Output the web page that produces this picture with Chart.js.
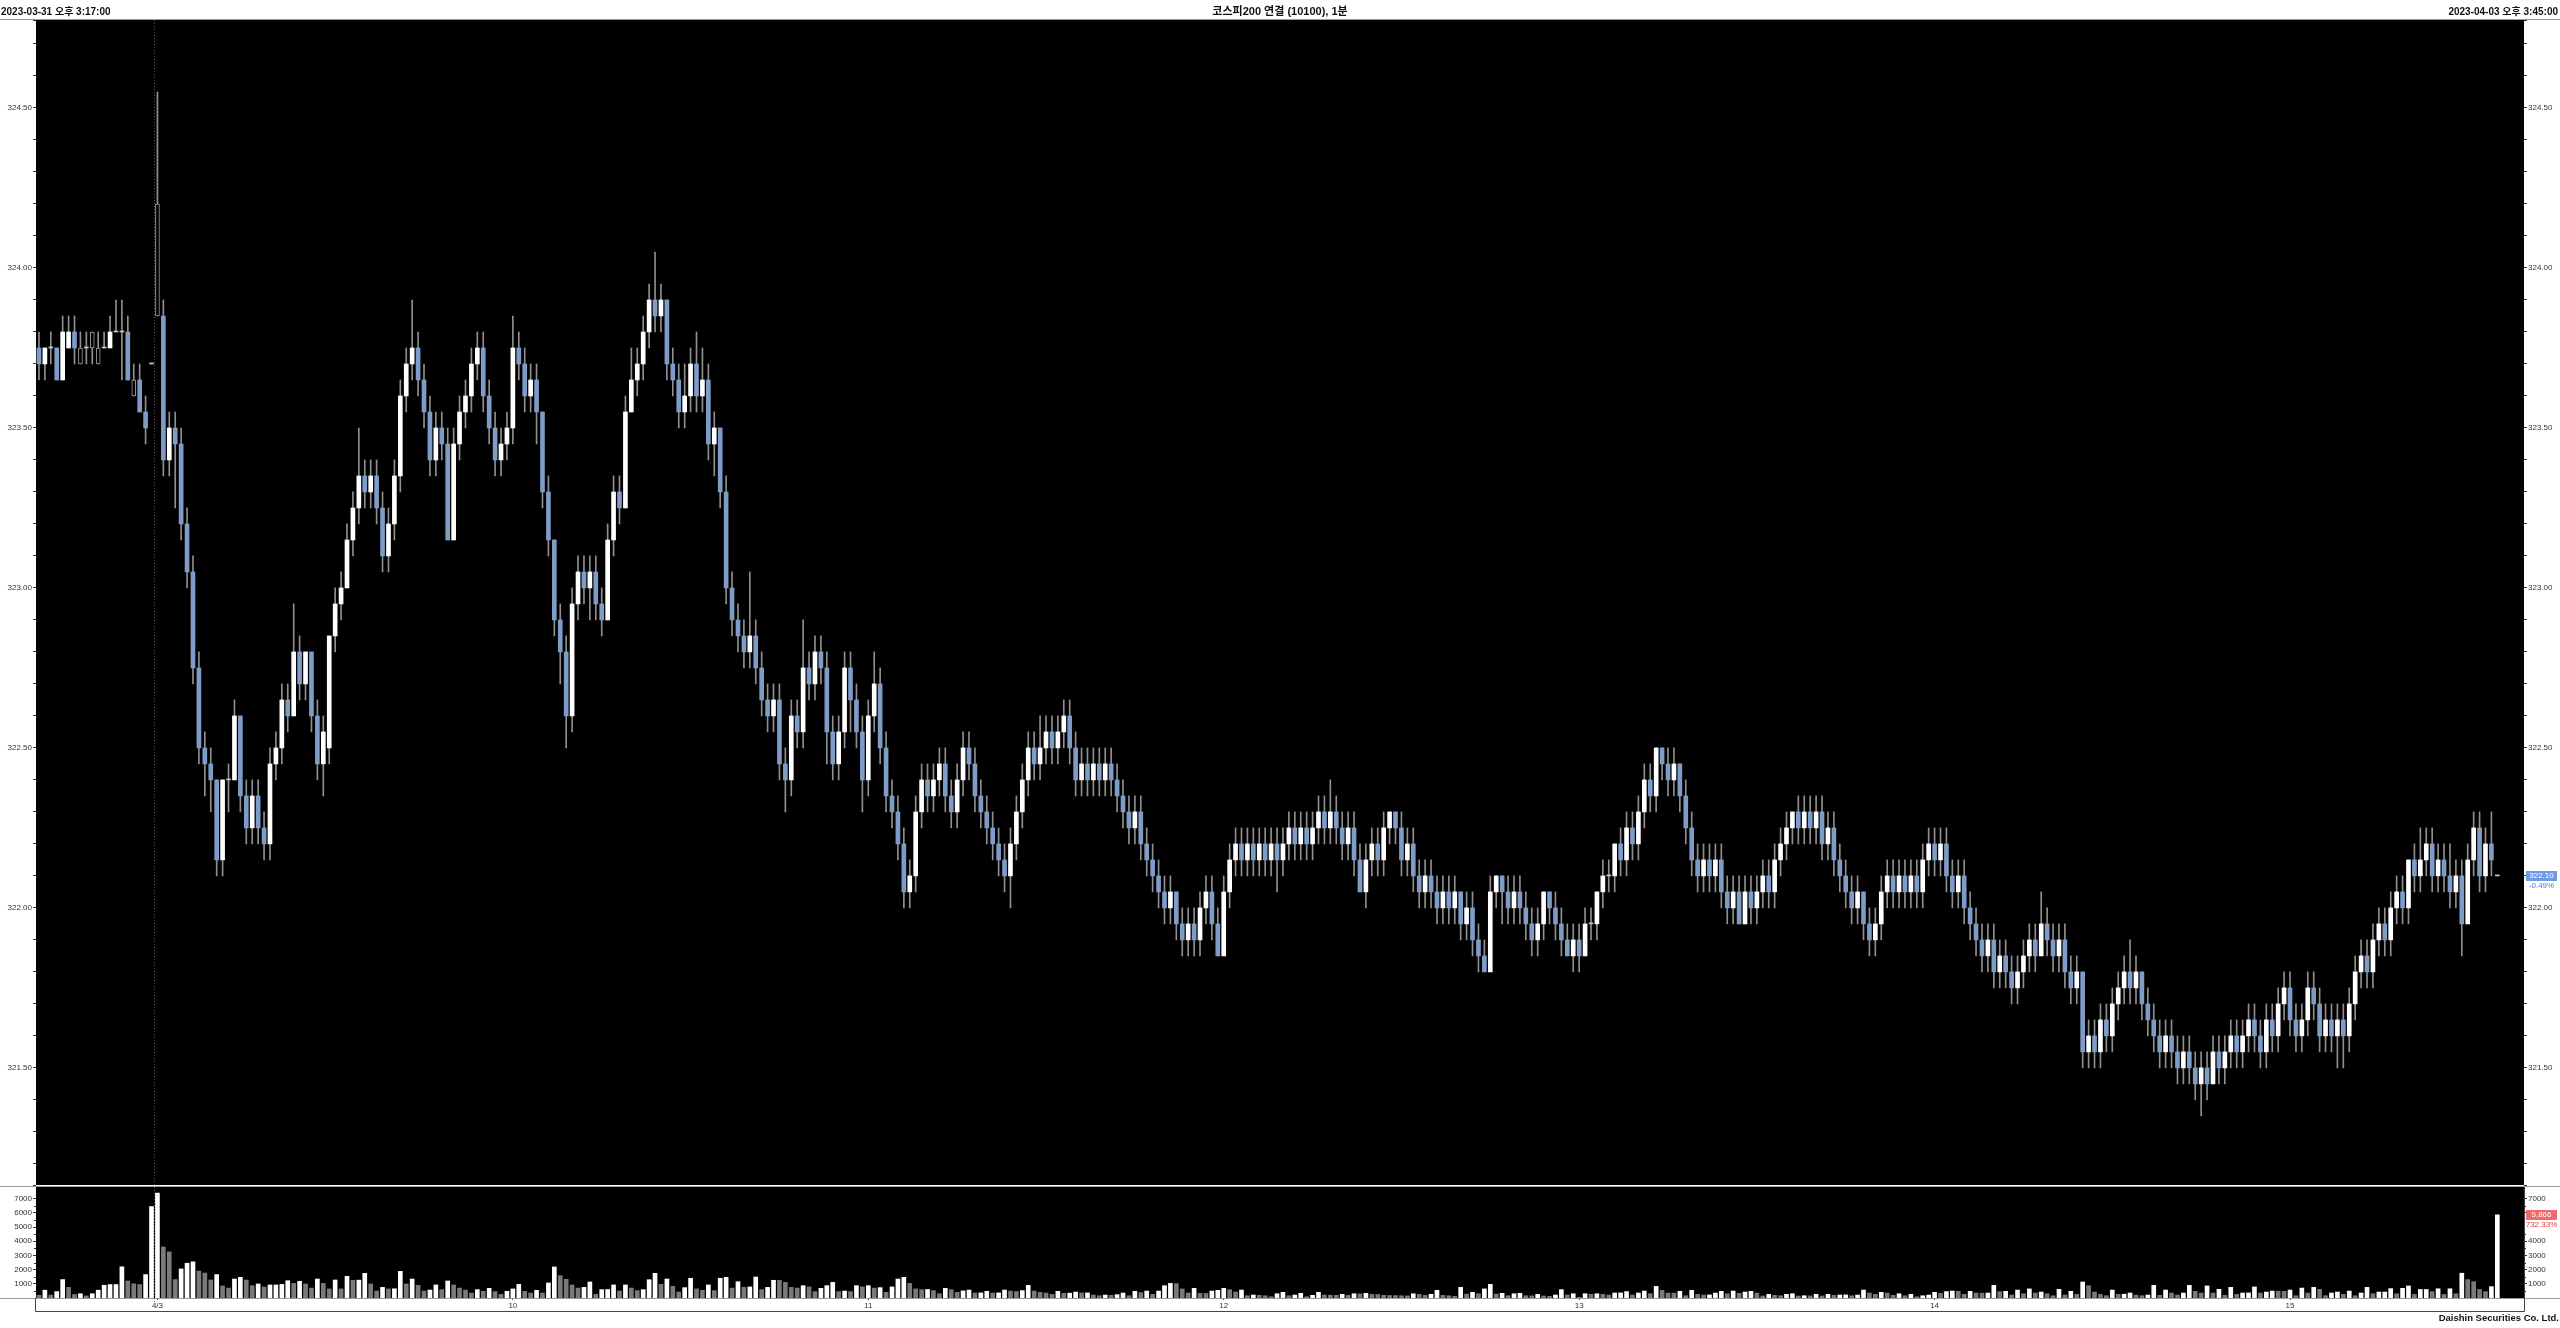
<!DOCTYPE html>
<html>
<head>
<meta charset="utf-8">
<script src="https://cdn.jsdelivr.net/npm/chart.js@4.4.1/dist/chart.umd.min.js"></script>
<style>
  html, body { margin: 0; padding: 0; background: #fff; }
  #page { position: relative; width: 2560px; height: 1328px; overflow: hidden; background: #fff; }
  canvas { position: absolute; left: 0; }
  .txt { position: absolute; font: bold 10px 'Liberation Sans', 'Noto Sans CJK KR', sans-serif; color: #111; white-space: nowrap; z-index: 2; }
</style>
</head>
<body>
<div id="page">
  <canvas id="priceChart" width="2560" height="1186" style="top:0"></canvas>
  <canvas id="volumeChart" width="2560" height="142" style="top:1186px"></canvas>
  <div class="txt" style="left:1px; top:3px">2023-03-31 오후 3:17:00</div>
  <div class="txt" style="left:0; width:2560px; top:2px; text-align:center; font-size:11px">코스피200 연결 (10100), 1분</div>
  <div class="txt" style="right:2px; top:3px">2023-04-03 오후 3:45:00</div>
  <div class="txt" style="right:1px; top:1312px; font-size:9.5px">Daishin Securities Co. Ltd.</div>
</div>
<script>
// 1-minute bars, 3/31 15:17 .. 4/3 closing call (416 bars)
const opens = [
  323.75, 323.70, 323.75, 323.75, 323.65, 323.75, 323.80, 323.75, 323.75, 323.80,
  323.75, 323.75, 323.75, 323.80, 323.80, 323.80, 323.65, 323.65, 323.55, 323.70,
  324.20, 323.85, 323.40, 323.50, 323.45, 323.20, 323.05, 322.75, 322.50, 322.45,
  322.40, 322.15, 322.40, 322.40, 322.60, 322.35, 322.25, 322.35, 322.25, 322.20,
  322.45, 322.50, 322.65, 322.60, 322.80, 322.70, 322.80, 322.60, 322.45, 322.50,
  322.85, 322.95, 323.00, 323.15, 323.25, 323.35, 323.30, 323.35, 323.25, 323.10,
  323.20, 323.35, 323.60, 323.70, 323.75, 323.65, 323.55, 323.40, 323.50, 323.45,
  323.15, 323.45, 323.55, 323.60, 323.70, 323.75, 323.60, 323.50, 323.40, 323.45,
  323.50, 323.75, 323.70, 323.60, 323.65, 323.55, 323.30, 323.15, 322.90, 322.80,
  322.60, 322.95, 323.05, 323.00, 323.05, 322.95, 322.90, 323.15, 323.30, 323.25,
  323.55, 323.65, 323.70, 323.80, 323.90, 323.85, 323.90, 323.70, 323.65, 323.55,
  323.60, 323.70, 323.60, 323.65, 323.45, 323.50, 323.30, 323.00, 322.90, 322.85,
  322.80, 322.85, 322.75, 322.65, 322.60, 322.65, 322.45, 322.40, 322.60, 322.55,
  322.75, 322.70, 322.80, 322.75, 322.55, 322.45, 322.55, 322.75, 322.65, 322.55,
  322.40, 322.60, 322.70, 322.50, 322.35, 322.30, 322.20, 322.05, 322.10, 322.30,
  322.40, 322.35, 322.40, 322.45, 322.35, 322.30, 322.40, 322.50, 322.45, 322.35,
  322.30, 322.25, 322.20, 322.15, 322.10, 322.20, 322.30, 322.40, 322.50, 322.45,
  322.50, 322.55, 322.50, 322.55, 322.60, 322.50, 322.40, 322.45, 322.40, 322.45,
  322.40, 322.45, 322.40, 322.35, 322.30, 322.25, 322.30, 322.20, 322.15, 322.10,
  322.05, 322.00, 322.05, 321.95, 321.90, 321.95, 321.90, 322.00, 322.05, 321.95,
  321.85, 322.05, 322.15, 322.20, 322.15, 322.20, 322.15, 322.20, 322.15, 322.20,
  322.15, 322.20, 322.25, 322.20, 322.25, 322.20, 322.25, 322.30, 322.25, 322.30,
  322.25, 322.20, 322.25, 322.15, 322.05, 322.15, 322.20, 322.15, 322.25, 322.30,
  322.25, 322.15, 322.20, 322.10, 322.05, 322.10, 322.05, 322.00, 322.05, 322.00,
  322.05, 321.95, 322.00, 321.90, 321.85, 321.80, 322.05, 322.10, 322.05, 322.00,
  322.05, 322.00, 321.95, 321.90, 321.95, 322.05, 322.00, 321.95, 321.90, 321.85,
  321.90, 321.85, 321.95, 321.95, 322.05, 322.10, 322.10, 322.20, 322.15, 322.25,
  322.20, 322.30, 322.40, 322.35, 322.50, 322.45, 322.40, 322.45, 322.35, 322.25,
  322.15, 322.10, 322.15, 322.10, 322.15, 322.05, 322.00, 322.05, 321.95, 322.05,
  322.00, 322.05, 322.10, 322.05, 322.15, 322.20, 322.25, 322.30, 322.25, 322.30,
  322.25, 322.30, 322.20, 322.25, 322.15, 322.10, 322.05, 322.00, 322.05, 321.95,
  321.90, 321.95, 322.05, 322.10, 322.05, 322.10, 322.05, 322.10, 322.05, 322.15,
  322.20, 322.15, 322.20, 322.10, 322.05, 322.10, 322.00, 321.95, 321.90, 321.85,
  321.90, 321.80, 321.85, 321.80, 321.75, 321.80, 321.85, 321.90, 321.85, 321.95,
  321.90, 321.85, 321.90, 321.80, 321.75, 321.80, 321.55, 321.60, 321.55, 321.65,
  321.60, 321.70, 321.75, 321.80, 321.75, 321.80, 321.70, 321.65, 321.60, 321.55,
  321.60, 321.55, 321.50, 321.55, 321.50, 321.45, 321.50, 321.45, 321.55, 321.50,
  321.55, 321.60, 321.55, 321.60, 321.65, 321.60, 321.55, 321.65, 321.60, 321.70,
  321.75, 321.65, 321.60, 321.65, 321.75, 321.70, 321.60, 321.65, 321.60, 321.65,
  321.60, 321.70, 321.80, 321.85, 321.80, 321.90, 321.95, 321.90, 322.00, 322.05,
  322.00, 322.15, 322.10, 322.15, 322.20, 322.10, 322.15, 322.10, 322.05, 322.10,
  321.95, 322.15, 322.25, 322.10, 322.20, 322.10
]
const highs = [
  323.80, 323.75, 323.80, 323.75, 323.85, 323.85, 323.85, 323.80, 323.80, 323.80,
  323.80, 323.80, 323.85, 323.90, 323.90, 323.85, 323.70, 323.70, 323.60, 323.70,
  324.55, 323.90, 323.55, 323.55, 323.50, 323.25, 323.10, 322.80, 322.55, 322.50,
  322.40, 322.40, 322.45, 322.65, 322.60, 322.40, 322.40, 322.40, 322.30, 322.50,
  322.55, 322.70, 322.70, 322.95, 322.85, 322.80, 322.80, 322.65, 322.60, 322.85,
  323.00, 323.05, 323.20, 323.30, 323.50, 323.40, 323.40, 323.40, 323.30, 323.25,
  323.40, 323.65, 323.75, 323.90, 323.80, 323.70, 323.60, 323.55, 323.55, 323.50,
  323.50, 323.60, 323.65, 323.75, 323.80, 323.80, 323.65, 323.55, 323.50, 323.55,
  323.85, 323.80, 323.75, 323.70, 323.70, 323.55, 323.35, 323.15, 322.95, 322.85,
  323.00, 323.10, 323.10, 323.10, 323.10, 323.00, 323.20, 323.35, 323.35, 323.60,
  323.75, 323.75, 323.85, 323.95, 324.05, 323.95, 323.90, 323.75, 323.70, 323.70,
  323.75, 323.80, 323.75, 323.70, 323.55, 323.50, 323.35, 323.05, 322.95, 322.90,
  323.05, 322.90, 322.80, 322.70, 322.70, 322.70, 322.50, 322.65, 322.65, 322.90,
  322.80, 322.85, 322.85, 322.80, 322.60, 322.60, 322.80, 322.80, 322.70, 322.60,
  322.65, 322.80, 322.75, 322.55, 322.40, 322.35, 322.25, 322.15, 322.35, 322.45,
  322.45, 322.45, 322.50, 322.50, 322.40, 322.45, 322.55, 322.55, 322.50, 322.40,
  322.35, 322.30, 322.25, 322.20, 322.25, 322.35, 322.45, 322.55, 322.55, 322.60,
  322.60, 322.60, 322.60, 322.65, 322.65, 322.55, 322.50, 322.50, 322.50, 322.50,
  322.50, 322.50, 322.45, 322.40, 322.35, 322.35, 322.35, 322.25, 322.20, 322.15,
  322.10, 322.10, 322.05, 322.00, 322.00, 322.00, 322.05, 322.10, 322.10, 322.00,
  322.10, 322.20, 322.25, 322.25, 322.25, 322.25, 322.25, 322.25, 322.25, 322.25,
  322.25, 322.30, 322.30, 322.30, 322.30, 322.30, 322.35, 322.35, 322.40, 322.35,
  322.30, 322.30, 322.30, 322.20, 322.20, 322.25, 322.25, 322.30, 322.30, 322.30,
  322.30, 322.25, 322.25, 322.15, 322.15, 322.15, 322.10, 322.10, 322.10, 322.10,
  322.05, 322.05, 322.05, 321.95, 321.90, 322.10, 322.10, 322.10, 322.10, 322.10,
  322.10, 322.05, 322.00, 322.00, 322.05, 322.05, 322.05, 322.00, 321.95, 321.95,
  321.95, 322.00, 322.00, 322.05, 322.15, 322.15, 322.20, 322.25, 322.30, 322.30,
  322.35, 322.45, 322.45, 322.50, 322.50, 322.50, 322.50, 322.45, 322.40, 322.30,
  322.20, 322.20, 322.20, 322.20, 322.20, 322.10, 322.10, 322.10, 322.10, 322.10,
  322.10, 322.15, 322.15, 322.20, 322.25, 322.30, 322.30, 322.35, 322.35, 322.35,
  322.35, 322.35, 322.30, 322.30, 322.20, 322.15, 322.10, 322.10, 322.05, 322.00,
  322.00, 322.10, 322.15, 322.15, 322.15, 322.15, 322.15, 322.15, 322.20, 322.25,
  322.25, 322.25, 322.25, 322.15, 322.15, 322.15, 322.05, 322.00, 321.95, 321.95,
  321.95, 321.90, 321.90, 321.85, 321.85, 321.90, 321.95, 321.95, 322.05, 322.00,
  321.95, 321.95, 321.95, 321.85, 321.85, 321.80, 321.65, 321.65, 321.70, 321.70,
  321.75, 321.80, 321.85, 321.90, 321.85, 321.80, 321.75, 321.70, 321.65, 321.65,
  321.65, 321.60, 321.60, 321.60, 321.55, 321.55, 321.55, 321.60, 321.60, 321.60,
  321.65, 321.65, 321.65, 321.70, 321.70, 321.65, 321.70, 321.70, 321.75, 321.80,
  321.80, 321.70, 321.70, 321.80, 321.80, 321.75, 321.70, 321.70, 321.70, 321.70,
  321.75, 321.85, 321.90, 321.90, 321.95, 322.00, 322.00, 322.05, 322.10, 322.10,
  322.15, 322.20, 322.25, 322.25, 322.25, 322.20, 322.20, 322.20, 322.15, 322.15,
  322.20, 322.30, 322.30, 322.25, 322.30, 322.10
]
const lows = [
  323.65, 323.65, 323.70, 323.65, 323.65, 323.75, 323.70, 323.70, 323.70, 323.70,
  323.70, 323.75, 323.75, 323.80, 323.65, 323.65, 323.60, 323.55, 323.45, 323.70,
  323.85, 323.35, 323.35, 323.25, 323.15, 323.00, 322.70, 322.45, 322.35, 322.30,
  322.10, 322.10, 322.30, 322.40, 322.30, 322.20, 322.20, 322.20, 322.15, 322.15,
  322.40, 322.45, 322.55, 322.60, 322.65, 322.65, 322.55, 322.40, 322.35, 322.45,
  322.80, 322.90, 323.00, 323.10, 323.20, 323.25, 323.25, 323.20, 323.05, 323.05,
  323.15, 323.30, 323.55, 323.65, 323.60, 323.50, 323.35, 323.35, 323.40, 323.15,
  323.15, 323.40, 323.50, 323.55, 323.65, 323.55, 323.45, 323.35, 323.35, 323.40,
  323.45, 323.65, 323.55, 323.55, 323.45, 323.25, 323.10, 322.85, 322.70, 322.50,
  322.55, 322.90, 322.95, 322.90, 322.90, 322.85, 322.90, 323.10, 323.20, 323.25,
  323.55, 323.60, 323.65, 323.75, 323.80, 323.80, 323.65, 323.60, 323.50, 323.50,
  323.55, 323.55, 323.55, 323.40, 323.35, 323.25, 322.95, 322.85, 322.80, 322.75,
  322.75, 322.70, 322.60, 322.55, 322.55, 322.40, 322.30, 322.35, 322.50, 322.50,
  322.65, 322.65, 322.70, 322.45, 322.40, 322.40, 322.50, 322.55, 322.50, 322.30,
  322.35, 322.55, 322.45, 322.30, 322.25, 322.15, 322.00, 322.00, 322.05, 322.25,
  322.30, 322.30, 322.35, 322.30, 322.25, 322.25, 322.35, 322.40, 322.30, 322.25,
  322.20, 322.15, 322.10, 322.05, 322.00, 322.15, 322.25, 322.35, 322.40, 322.40,
  322.45, 322.45, 322.45, 322.50, 322.45, 322.35, 322.35, 322.35, 322.35, 322.35,
  322.35, 322.35, 322.30, 322.25, 322.20, 322.20, 322.15, 322.10, 322.05, 322.00,
  321.95, 321.95, 321.90, 321.85, 321.85, 321.85, 321.85, 321.95, 321.90, 321.85,
  321.85, 322.00, 322.10, 322.10, 322.10, 322.10, 322.10, 322.10, 322.10, 322.05,
  322.10, 322.15, 322.15, 322.15, 322.15, 322.15, 322.20, 322.20, 322.20, 322.20,
  322.15, 322.15, 322.10, 322.05, 322.00, 322.10, 322.10, 322.10, 322.20, 322.20,
  322.10, 322.10, 322.05, 322.00, 322.00, 322.00, 321.95, 321.95, 321.95, 321.95,
  321.90, 321.90, 321.85, 321.80, 321.80, 321.80, 322.00, 321.95, 321.95, 321.95,
  321.95, 321.90, 321.85, 321.85, 321.90, 321.95, 321.90, 321.85, 321.85, 321.80,
  321.80, 321.85, 321.90, 321.90, 322.00, 322.05, 322.05, 322.10, 322.10, 322.15,
  322.15, 322.25, 322.30, 322.30, 322.40, 322.35, 322.35, 322.30, 322.20, 322.10,
  322.05, 322.05, 322.05, 322.05, 322.00, 321.95, 321.95, 321.95, 321.95, 321.95,
  321.95, 322.00, 322.00, 322.00, 322.10, 322.15, 322.20, 322.20, 322.20, 322.20,
  322.20, 322.15, 322.15, 322.10, 322.05, 322.00, 321.95, 321.95, 321.90, 321.85,
  321.85, 321.90, 322.00, 322.00, 322.00, 322.00, 322.00, 322.00, 322.00, 322.10,
  322.10, 322.10, 322.05, 322.00, 322.00, 321.95, 321.90, 321.85, 321.80, 321.80,
  321.75, 321.75, 321.75, 321.70, 321.70, 321.75, 321.80, 321.80, 321.85, 321.85,
  321.80, 321.80, 321.75, 321.70, 321.70, 321.50, 321.50, 321.50, 321.50, 321.55,
  321.55, 321.65, 321.70, 321.70, 321.70, 321.65, 321.60, 321.55, 321.50, 321.50,
  321.50, 321.45, 321.45, 321.45, 321.40, 321.35, 321.40, 321.45, 321.45, 321.45,
  321.50, 321.50, 321.50, 321.55, 321.55, 321.50, 321.50, 321.55, 321.55, 321.65,
  321.60, 321.55, 321.55, 321.60, 321.65, 321.55, 321.55, 321.55, 321.50, 321.50,
  321.55, 321.65, 321.75, 321.75, 321.75, 321.85, 321.85, 321.85, 321.95, 321.95,
  321.95, 322.05, 322.05, 322.10, 322.05, 322.05, 322.05, 322.00, 322.00, 321.85,
  321.95, 322.10, 322.05, 322.05, 322.10, 322.10
]
const closes = [
  323.70, 323.75, 323.75, 323.65, 323.80, 323.80, 323.75, 323.70, 323.75, 323.75,
  323.70, 323.75, 323.80, 323.80, 323.80, 323.65, 323.60, 323.55, 323.50, 323.70,
  323.85, 323.40, 323.50, 323.45, 323.20, 323.05, 322.75, 322.50, 322.45, 322.40,
  322.15, 322.40, 322.40, 322.60, 322.35, 322.25, 322.35, 322.25, 322.20, 322.45,
  322.50, 322.65, 322.60, 322.80, 322.70, 322.80, 322.60, 322.45, 322.55, 322.85,
  322.95, 323.00, 323.15, 323.25, 323.35, 323.30, 323.35, 323.25, 323.10, 323.20,
  323.35, 323.60, 323.70, 323.75, 323.65, 323.55, 323.40, 323.50, 323.45, 323.15,
  323.45, 323.55, 323.60, 323.70, 323.75, 323.60, 323.50, 323.40, 323.45, 323.50,
  323.75, 323.70, 323.60, 323.65, 323.55, 323.30, 323.15, 322.90, 322.80, 322.60,
  322.95, 323.05, 323.00, 323.05, 322.95, 322.90, 323.15, 323.30, 323.25, 323.55,
  323.65, 323.70, 323.80, 323.90, 323.85, 323.90, 323.70, 323.65, 323.55, 323.60,
  323.70, 323.60, 323.65, 323.45, 323.50, 323.30, 323.00, 322.90, 322.85, 322.80,
  322.85, 322.75, 322.65, 322.60, 322.65, 322.45, 322.40, 322.60, 322.55, 322.75,
  322.70, 322.80, 322.75, 322.55, 322.45, 322.55, 322.75, 322.65, 322.55, 322.40,
  322.60, 322.70, 322.50, 322.35, 322.30, 322.20, 322.05, 322.10, 322.30, 322.40,
  322.35, 322.40, 322.45, 322.35, 322.30, 322.40, 322.50, 322.45, 322.35, 322.30,
  322.25, 322.20, 322.15, 322.10, 322.20, 322.30, 322.40, 322.50, 322.45, 322.50,
  322.55, 322.50, 322.55, 322.60, 322.50, 322.40, 322.45, 322.40, 322.45, 322.40,
  322.45, 322.40, 322.35, 322.30, 322.25, 322.30, 322.20, 322.15, 322.10, 322.05,
  322.00, 322.05, 321.95, 321.90, 321.95, 321.90, 322.00, 322.05, 321.95, 321.85,
  322.05, 322.15, 322.20, 322.15, 322.20, 322.15, 322.20, 322.15, 322.20, 322.15,
  322.20, 322.25, 322.20, 322.25, 322.20, 322.25, 322.30, 322.25, 322.30, 322.25,
  322.20, 322.25, 322.15, 322.05, 322.15, 322.20, 322.15, 322.25, 322.30, 322.25,
  322.15, 322.20, 322.10, 322.05, 322.10, 322.05, 322.00, 322.05, 322.00, 322.05,
  321.95, 322.00, 321.90, 321.85, 321.80, 322.05, 322.10, 322.05, 322.00, 322.05,
  322.00, 321.95, 321.90, 321.95, 322.05, 322.00, 321.95, 321.90, 321.85, 321.90,
  321.85, 321.95, 321.95, 322.05, 322.10, 322.10, 322.20, 322.15, 322.25, 322.20,
  322.30, 322.40, 322.35, 322.50, 322.45, 322.40, 322.45, 322.35, 322.25, 322.15,
  322.10, 322.15, 322.10, 322.15, 322.05, 322.00, 322.05, 321.95, 322.05, 322.00,
  322.05, 322.10, 322.05, 322.15, 322.20, 322.25, 322.30, 322.25, 322.30, 322.25,
  322.30, 322.20, 322.25, 322.15, 322.10, 322.05, 322.00, 322.05, 321.95, 321.90,
  321.95, 322.05, 322.10, 322.05, 322.10, 322.05, 322.10, 322.05, 322.15, 322.20,
  322.15, 322.20, 322.10, 322.05, 322.10, 322.00, 321.95, 321.90, 321.85, 321.90,
  321.80, 321.85, 321.80, 321.75, 321.80, 321.85, 321.90, 321.85, 321.95, 321.90,
  321.85, 321.90, 321.80, 321.75, 321.80, 321.55, 321.60, 321.55, 321.65, 321.60,
  321.70, 321.75, 321.80, 321.75, 321.80, 321.70, 321.65, 321.60, 321.55, 321.60,
  321.55, 321.50, 321.55, 321.50, 321.45, 321.50, 321.45, 321.55, 321.50, 321.55,
  321.60, 321.55, 321.60, 321.65, 321.60, 321.55, 321.65, 321.60, 321.70, 321.75,
  321.65, 321.60, 321.65, 321.75, 321.70, 321.60, 321.65, 321.60, 321.65, 321.60,
  321.70, 321.80, 321.85, 321.80, 321.90, 321.95, 321.90, 322.00, 322.05, 322.00,
  322.15, 322.10, 322.15, 322.20, 322.10, 322.15, 322.10, 322.05, 322.10, 321.95,
  322.15, 322.25, 322.10, 322.20, 322.15, 322.10
]
const volumes = [
  200, 550, 200, 450, 1300, 750, 250, 300, 150, 300, 550, 900, 950, 950, 2200, 1200, 1000, 950, 1650, 6450,
  7400, 3600, 3250, 1300, 2050, 2450, 2550, 1900, 1760, 1270, 1650, 850, 700, 1340, 1460, 1270, 870, 990, 780, 920,
  920, 960, 1220, 1030, 1180, 990, 700, 1340, 1030, 640, 1270, 640, 1530, 1250, 1260, 1740, 990, 490, 750, 640,
  650, 1880, 990, 1340, 900, 490, 560, 920, 590, 1200, 920, 700, 560, 350, 590, 470, 680, 450, 260, 470,
  640, 960, 470, 350, 540, 350, 1060, 2190, 1580, 1320, 920, 700, 750, 1130, 260, 590, 600, 920, 490, 920,
  700, 520, 590, 1290, 1740, 960, 1340, 820, 420, 730, 1390, 640, 540, 920, 520, 1390, 1460, 700, 1150, 750,
  780, 1480, 590, 750, 1250, 1240, 1100, 750, 700, 870, 780, 450, 680, 870, 1100, 450, 490, 450, 870, 780,
  870, 700, 730, 400, 780, 1340, 1460, 1030, 640, 590, 600, 520, 300, 680, 590, 400, 500, 560, 350, 360,
  470, 350, 360, 560, 490, 450, 520, 890, 490, 400, 350, 260, 470, 330, 340, 420, 350, 360, 210, 160,
  210, 190, 235, 350, 160, 470, 380, 490, 260, 490, 870, 1030, 1020, 640, 350, 680, 330, 320, 490, 540,
  680, 590, 420, 560, 160, 210, 190, 160, 90, 300, 400, 160, 210, 330, 90, 190, 400, 210, 200, 190,
  260, 190, 300, 290, 330, 260, 250, 190, 180, 170, 160, 150, 300, 260, 190, 260, 540, 190, 160, 120,
  750, 280, 400, 300, 640, 960, 280, 330, 160, 300, 330, 160, 150, 260, 140, 120, 210, 590, 210, 300,
  50, 300, 260, 300, 260, 210, 350, 360, 450, 210, 350, 490, 300, 820, 540, 350, 340, 470, 160, 540,
  260, 210, 220, 350, 470, 300, 490, 330, 420, 470, 350, 140, 260, 190, 160, 260, 300, 140, 160, 150,
  260, 140, 260, 190, 210, 220, 160, 210, 560, 350, 260, 400, 350, 190, 300, 160, 260, 90, 160, 210,
  400, 330, 450, 490, 470, 260, 470, 350, 340, 350, 890, 450, 470, 210, 560, 300, 640, 350, 420, 300,
  160, 610, 210, 470, 260, 1130, 870, 420, 260, 160, 560, 260, 270, 350, 210, 160, 210, 890, 190, 560,
  350, 210, 350, 890, 470, 350, 850, 350, 610, 190, 750, 260, 350, 360, 780, 350, 420, 490, 480, 470,
  560, 160, 700, 350, 750, 610, 160, 350, 420, 260, 490, 160, 350, 750, 300, 420, 420, 660, 300, 680,
  850, 250, 600, 600, 450, 650, 250, 650, 300, 1750, 1300, 1150, 600, 450, 800, 5866
]
// candles drawn with an outline only
const hollowBars = [7, 9, 10, 16, 20]
// x axis: slot count (4 empty slots after the last bar), day break and hour labels
const slotCount = 420
const dayBreak = 20
const tickBars = [20, 80, 140, 200, 260, 320, 380]
const tickLabels = ['4/3', '10', '11', '12', '13', '14', '15']
const volumeTicks = [1000, 2000, 3000, 4000, 5000, 6000, 7000]
const priceChangeText = '-0.49%'
const volumeChangeText = '732.33%'

const UP = '#ffffff'
const DOWN = '#7e9cc8'
const FLAT = '#c8c8c8'
const WICK = '#8f8f8f'
const AXIS_W = 36

Chart.defaults.font.family = "'Liberation Sans', Arial, sans-serif"
Chart.defaults.font.size = 8
Chart.defaults.color = '#333'

const slots = Array.from({ length: slotCount }, (_, i) => i)

// fixed axis width and no label overhang, so both panels line up exactly
const fixWidth = (scale) => {
  scale.width = AXIS_W
  scale.paddingTop = 0
  scale.paddingBottom = 0
}

const blackPanel = {
  id: 'blackPanel',
  beforeDraw(chart) {
    const { ctx, chartArea: a, width } = chart
    ctx.save()
    ctx.fillStyle = '#000'
    ctx.fillRect(a.left, a.top, a.right - a.left, a.bottom - a.top)
    ctx.strokeStyle = '#9a9a9a'
    ctx.lineWidth = 1
    ctx.beginPath()
    ctx.moveTo(0, a.top - 0.5)
    ctx.lineTo(width, a.top - 0.5)
    ctx.stroke()
    ctx.restore()
  },
  beforeDatasetsDraw(chart) {
    const { ctx, chartArea: a } = chart
    const x = chart.scales.x
    const px = Math.round((x.getPixelForValue(dayBreak - 1) + x.getPixelForValue(dayBreak)) / 2) + 0.5
    ctx.save()
    ctx.strokeStyle = '#5a5a5a'
    ctx.setLineDash([1, 2])
    ctx.beginPath()
    ctx.moveTo(px, a.top)
    ctx.lineTo(px, a.bottom)
    ctx.stroke()
    ctx.restore()
  }
}

// value badge on the right axis, the change text sits on a white strip below it
function drawBadge(chart, y, label, sub, fill, subColor) {
  const { ctx, chartArea: a } = chart
  const cy = Math.round(y)
  ctx.save()
  ctx.fillStyle = fill
  ctx.fillRect(a.right + 2, cy - 5, 31, 10)
  ctx.fillStyle = '#fff'
  ctx.fillRect(a.right + 1, cy + 5, 34, 10)
  ctx.font = "8px 'Liberation Sans', Arial, sans-serif"
  ctx.textAlign = 'center'
  ctx.textBaseline = 'middle'
  ctx.fillStyle = '#fff'
  ctx.fillText(label, a.right + 17.5, cy)
  ctx.fillStyle = subColor
  ctx.fillText(sub, a.right + 17.5, cy + 10)
  ctx.restore()
}

const priceBadge = {
  id: 'priceBadge',
  afterDraw(chart) {
    const last = closes[closes.length - 1]
    drawBadge(chart, chart.scales.y.getPixelForValue(last), last.toFixed(2), priceChangeText, '#6f9ae6', '#3f78dc')
  }
}

const volumeDecor = {
  id: 'volumeDecor',
  afterDraw(chart) {
    const { ctx, chartArea: a, width } = chart
    const x = chart.scales.x
    const y = chart.scales.y
    ctx.save()
    ctx.strokeStyle = '#9a9a9a'
    ctx.lineWidth = 1
    ctx.beginPath()
    ctx.moveTo(0, a.bottom + 0.5)
    ctx.lineTo(width, a.bottom + 0.5)
    ctx.stroke()
    ctx.strokeStyle = '#444'
    ctx.beginPath()
    ctx.moveTo(a.left - 0.5, a.bottom)
    ctx.lineTo(a.left - 0.5, a.bottom + 13.5)
    ctx.lineTo(a.right + 0.5, a.bottom + 13.5)
    ctx.lineTo(a.right + 0.5, a.top)
    ctx.stroke()
    // minor ticks halfway between the labelled volume ticks
    ctx.strokeStyle = '#333'
    ctx.beginPath()
    volumeTicks.forEach((v) => {
      const py = Math.round(y.getPixelForValue(v - 500)) + 0.5
      ctx.moveTo(a.left - 2, py)
      ctx.lineTo(a.left, py)
      ctx.moveTo(a.right, py)
      ctx.lineTo(a.right + 2, py)
    })
    ctx.stroke()
    const px = Math.round((x.getPixelForValue(dayBreak - 1) + x.getPixelForValue(dayBreak)) / 2) + 0.5
    ctx.strokeStyle = '#5a5a5a'
    ctx.setLineDash([1, 2])
    ctx.beginPath()
    ctx.moveTo(px, a.top)
    ctx.lineTo(px, a.bottom + 4)
    ctx.stroke()
    ctx.restore()
    const last = volumes[volumes.length - 1]
    drawBadge(chart, y.getPixelForValue(last), last.toLocaleString('en-US'), volumeChangeText, '#f06a6a', '#e23b35')
  }
}

const halfStep = (v) => Math.abs(v * 2 - Math.round(v * 2)) < 1e-6
const priceAxis = (position) => ({
  position,
  min: 321.134,
  max: 324.775,
  afterFit: fixWidth,
  border: { display: false },
  grid: { drawOnChartArea: false, tickLength: 3, tickColor: '#333' },
  ticks: {
    stepSize: 0.1,
    maxTicksLimit: 100,
    padding: 1,
    autoSkip: false,
    callback: (v) => (halfStep(v) ? Number(v).toFixed(2) : '')
  }
})

const bodyColors = closes.map((c, i) =>
  hollowBars.includes(i) ? '#000' : c > opens[i] ? UP : c < opens[i] ? DOWN : FLAT)

new Chart(document.getElementById('priceChart'), {
  type: 'bar',
  data: {
    labels: slots,
    datasets: [
      {
        label: 'wick',
        data: lows.map((l, i) => [l, highs[i]]),
        backgroundColor: WICK,
        barThickness: 1,
        grouped: false,
        order: 2
      },
      {
        label: 'body',
        data: opens.map((o, i) => [o, closes[i]]),
        backgroundColor: bodyColors,
        borderColor: closes.map((c, i) => (hollowBars.includes(i) ? '#9a9a9a' : 'rgba(0,0,0,0)')),
        borderWidth: closes.map((c, i) => (hollowBars.includes(i) ? 1 : 0)),
        borderSkipped: false,
        barThickness: 4,
        minBarLength: 1,
        grouped: false,
        order: 1
      }
    ]
  },
  options: {
    responsive: false,
    animation: false,
    devicePixelRatio: 1,
    layout: { padding: { top: 20, bottom: 1, left: 0, right: 0 } },
    plugins: { legend: { display: false }, tooltip: { enabled: false } },
    scales: {
      x: { display: false, offset: true },
      y: priceAxis('left'),
      yRight: priceAxis('right')
    }
  },
  plugins: [blackPanel, priceBadge]
})

const volumeAxis = (position) => ({
  position,
  min: 0,
  max: 7830,
  afterFit: fixWidth,
  afterBuildTicks: (scale) => {
    scale.ticks = volumeTicks.map((value) => ({ value }))
  },
  border: { display: false },
  grid: { drawOnChartArea: false, tickLength: 3, tickColor: '#333' },
  ticks: {
    padding: 1,
    autoSkip: false,
    font: { size: 8, lineHeight: 1 },
    callback: (v) => String(v)
  }
})

new Chart(document.getElementById('volumeChart'), {
  type: 'bar',
  data: {
    labels: slots,
    datasets: [{
      label: 'volume',
      data: volumes,
      backgroundColor: volumes.map((v, i) => (i > 0 && v >= volumes[i - 1] ? '#ffffff' : '#7a7a7a')),
      barThickness: 4,
      grouped: false
    }]
  },
  options: {
    responsive: false,
    animation: false,
    devicePixelRatio: 1,
    layout: { padding: { top: 1, bottom: 17, left: 0, right: 0 } },
    plugins: { legend: { display: false }, tooltip: { enabled: false } },
    scales: {
      x: {
        offset: true,
        afterFit: (scale) => { scale.height = 13 },
        border: { display: false },
        grid: {
          drawOnChartArea: false,
          offset: false,
          tickLength: 2,
          tickColor: (ctx) => (tickBars.includes(ctx.index) ? '#444' : 'rgba(0,0,0,0)')
        },
        ticks: {
          autoSkip: false,
          maxRotation: 0,
          minRotation: 0,
          padding: 1,
          color: '#333',
          callback: (v, i) => {
            const k = tickBars.indexOf(i)
            return k >= 0 ? tickLabels[k] : ''
          }
        }
      },
      y: volumeAxis('left'),
      yRight: volumeAxis('right')
    }
  },
  plugins: [blackPanel, volumeDecor]
})
</script>
</body>
</html>
